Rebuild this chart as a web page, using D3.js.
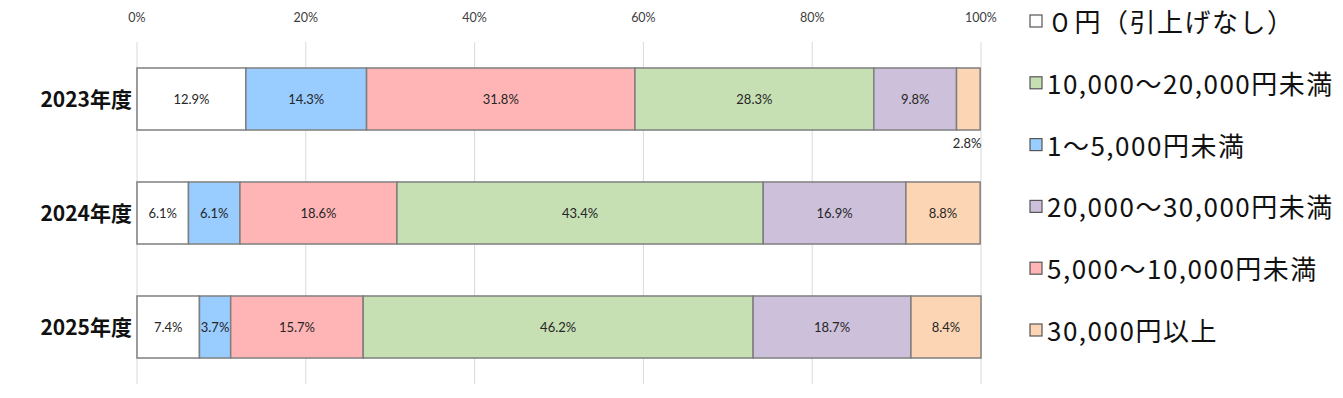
<!DOCTYPE html>
<html><head><meta charset="utf-8">
<script src="https://cdn.jsdelivr.net/npm/d3@7"></script>
<style>body{margin:0;background:#fff}svg{display:block}</style>
</head><body>
<script>
const categories = ["2023年度","2024年度","2025年度"];
const seriesNames = ["0円（引上げなし）","1〜5,000円未満","5,000〜10,000円未満","10,000〜20,000円未満","20,000〜30,000円未満","30,000円以上"];
const legendLabels = ["０円（引上げなし）","10,000〜20,000円未満","1〜5,000円未満","20,000〜30,000円未満","5,000〜10,000円未満","30,000円以上"];
const legendSeries = [0,3,1,4,2,5];
const colors = ["#ffffff","#99ccff","#ffb5b5","#c6e0b4","#ccc0da","#fcd5b4"];
const v2023 = [12.9,14.3,31.8,28.3,9.8,2.8];
const v2024 = [6.1,6.1,18.6,43.4,16.9,8.8];
const v2025 = [7.4,3.7,15.7,46.2,18.7,8.4];
const values = [v2023,v2024,v2025];
const ticks = [0,20,40,60,80,100];

const W=1343,H=398;
const svg=d3.select("body").append("svg").attr("width",W).attr("height",H);
const x=d3.scaleLinear().domain([0,100]).range([137,981]);
const y=d3.scaleBand().domain(categories).range([42,384]).paddingInner(0.456).paddingOuter(0.228);

svg.append("g").selectAll("line").data(ticks).join("line")
  .attr("x1",d=>x(d)).attr("x2",d=>x(d)).attr("y1",42).attr("y2",384)
  .attr("stroke","#d9d9d9").attr("stroke-width",1);
svg.append("g").selectAll("text").data(ticks).join("text")
  .attr("x",d=>x(d)).attr("y",22).attr("text-anchor","middle")
  .attr("font-family","Lato, sans-serif").attr("font-size",12.5)
  .attr("fill","#404040").text(d=>d+"%");

categories.forEach((c,ci)=>{
  let cum=0;
  const segs=values[ci].map((v,si)=>{const s={v,si,x0:cum,x1:cum+v};cum+=v;return s;});
  const g=svg.append("g");
  g.selectAll("rect").data(segs).join("rect")
    .attr("x",d=>x(d.x0)).attr("width",d=>x(Math.min(d.x1,100))-x(d.x0))
    .attr("y",y(c)).attr("height",y.bandwidth())
    .attr("fill",d=>colors[d.si]).attr("stroke","#7f7f7f").attr("stroke-width",1.5);
  g.selectAll("text").data(segs).join("text")
    .attr("x",d=>{ if(d.v<3) return x(Math.min(d.x1,100))-13; return x((d.x0+Math.min(d.x1,100))/2);})
    .attr("y",d=> d.v<3 ? y(c)+y.bandwidth()+18 : y(c)+y.bandwidth()/2+5)
    .attr("text-anchor","middle")
    .attr("font-family","Lato, sans-serif").attr("font-size",13)
    .attr("fill","#262626").text(d=>d.v.toFixed(1)+"%");
  svg.append("text").attr("x",132).attr("y",y(c)+y.bandwidth()/2+8).attr("text-anchor","end")
    .attr("font-family","Noto Sans CJK JP, sans-serif").attr("font-weight","bold").attr("font-size",21)
    .attr("fill","#111").text(c);
});

const lg=svg.append("g");
legendLabels.forEach((t,i)=>{
  const yy=22+i*61.8;
  const si=legendSeries[i];
  lg.append("rect").attr("x",1030).attr("y",yy-7).attr("width",12).attr("height",12)
    .attr("fill",colors[si]).attr("stroke","#555").attr("stroke-width",1.2);
  lg.append("text").attr("x",1047).attr("y",yy+10)
    .attr("font-family","Noto Sans CJK JP, sans-serif").attr("font-size",26)
    .attr("letter-spacing",1.5)
    .attr("fill","#111").text(t);
});
</script>
</body></html>
